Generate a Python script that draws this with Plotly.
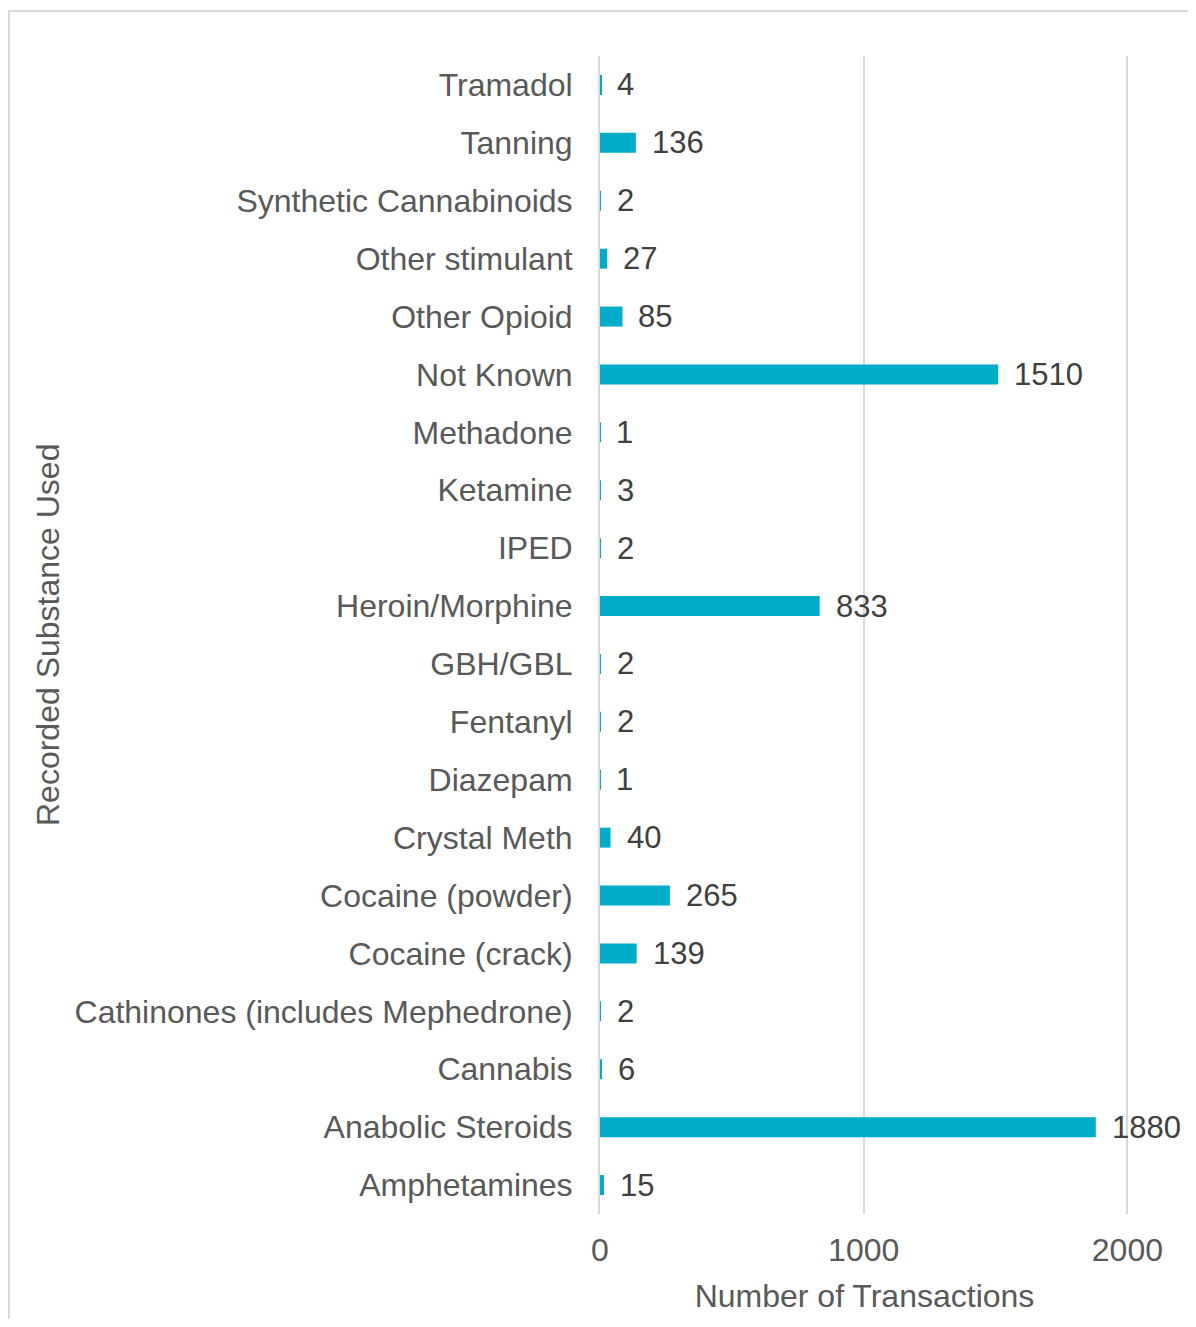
import plotly.graph_objects as go

categories = [
    "Amphetamines", "Anabolic Steroids", "Cannabis", "Cathinones (includes Mephedrone)",
    "Cocaine (crack)", "Cocaine (powder)", "Crystal Meth", "Diazepam", "Fentanyl",
    "GBH/GBL", "Heroin/Morphine", "IPED", "Ketamine", "Methadone", "Not Known",
    "Other Opioid", "Other stimulant", "Synthetic Cannabinoids", "Tanning", "Tramadol",
]
values = [15, 1880, 6, 2, 139, 265, 40, 1, 2, 2, 833, 2, 3, 1, 1510, 85, 27, 2, 136, 4]
x_ticks = [0, 1000, 2000]

OFF = 8  # page body margin
W, H = 1180, 1311
L, T = 600 - OFF, 56 - OFF
XMAX = 2006
pw = round(XMAX * 0.2635)
R = W - L - pw
B = H - (1214 - OFF)
ph = H - T - B

FONT = "Arial, Liberation Sans, sans-serif"
BAR = "#00ACC8"
GRID = "#D9D9D9"
TXT = "#595959"

fig = go.Figure(go.Bar(
    x=values, y=categories, orientation="h",
    marker=dict(color=BAR, line=dict(width=0)),
    hoverinfo="skip",
))

for c, v in zip(categories, values):
    fig.add_annotation(x=v, y=c, text=str(v), showarrow=False, xanchor="left",
                       xshift=14, font=dict(family=FONT, size=31, color="#404040"))

def px(xp):
    return (xp - OFF - L) / pw

def py(yp):
    return (H - B - (yp - OFF)) / ph

fig.add_annotation(xref="paper", yref="paper", x=px(48), y=0.5, text="Recorded Substance Used",
                   textangle=-90, showarrow=False, xanchor="center", yanchor="middle",
                   font=dict(family=FONT, size=32, color=TXT))

fig.add_shape(type="rect", xref="paper", yref="paper", x0=px(9), x1=px(1230), y0=py(1360), y1=py(11),
              line=dict(color=GRID, width=2), fillcolor="rgba(0,0,0,0)", layer="below")

fig.update_layout(
    width=W, height=H,
    margin=dict(l=L, r=R, t=T, b=B),
    paper_bgcolor="white", plot_bgcolor="white",
    bargap=0.655, showlegend=False,
    font=dict(family=FONT, size=32, color=TXT),
    xaxis=dict(range=[0, XMAX], tickvals=x_ticks, ticktext=[str(t) for t in x_ticks],
               showgrid=True, gridcolor=GRID, gridwidth=2, zeroline=False, showline=False,
               ticks="", ticklabelstandoff=14,
               tickfont=dict(family=FONT, size=32, color=TXT),
               title=dict(text="Number of Transactions", standoff=17,
                          font=dict(family=FONT, size=32, color=TXT))),
    yaxis=dict(showgrid=False, zeroline=False, showline=True, linecolor=GRID, linewidth=2,
               ticks="", ticklabelstandoff=19,
               tickfont=dict(family=FONT, size=32, color=TXT)),
)

fig.write_html("out.html")
